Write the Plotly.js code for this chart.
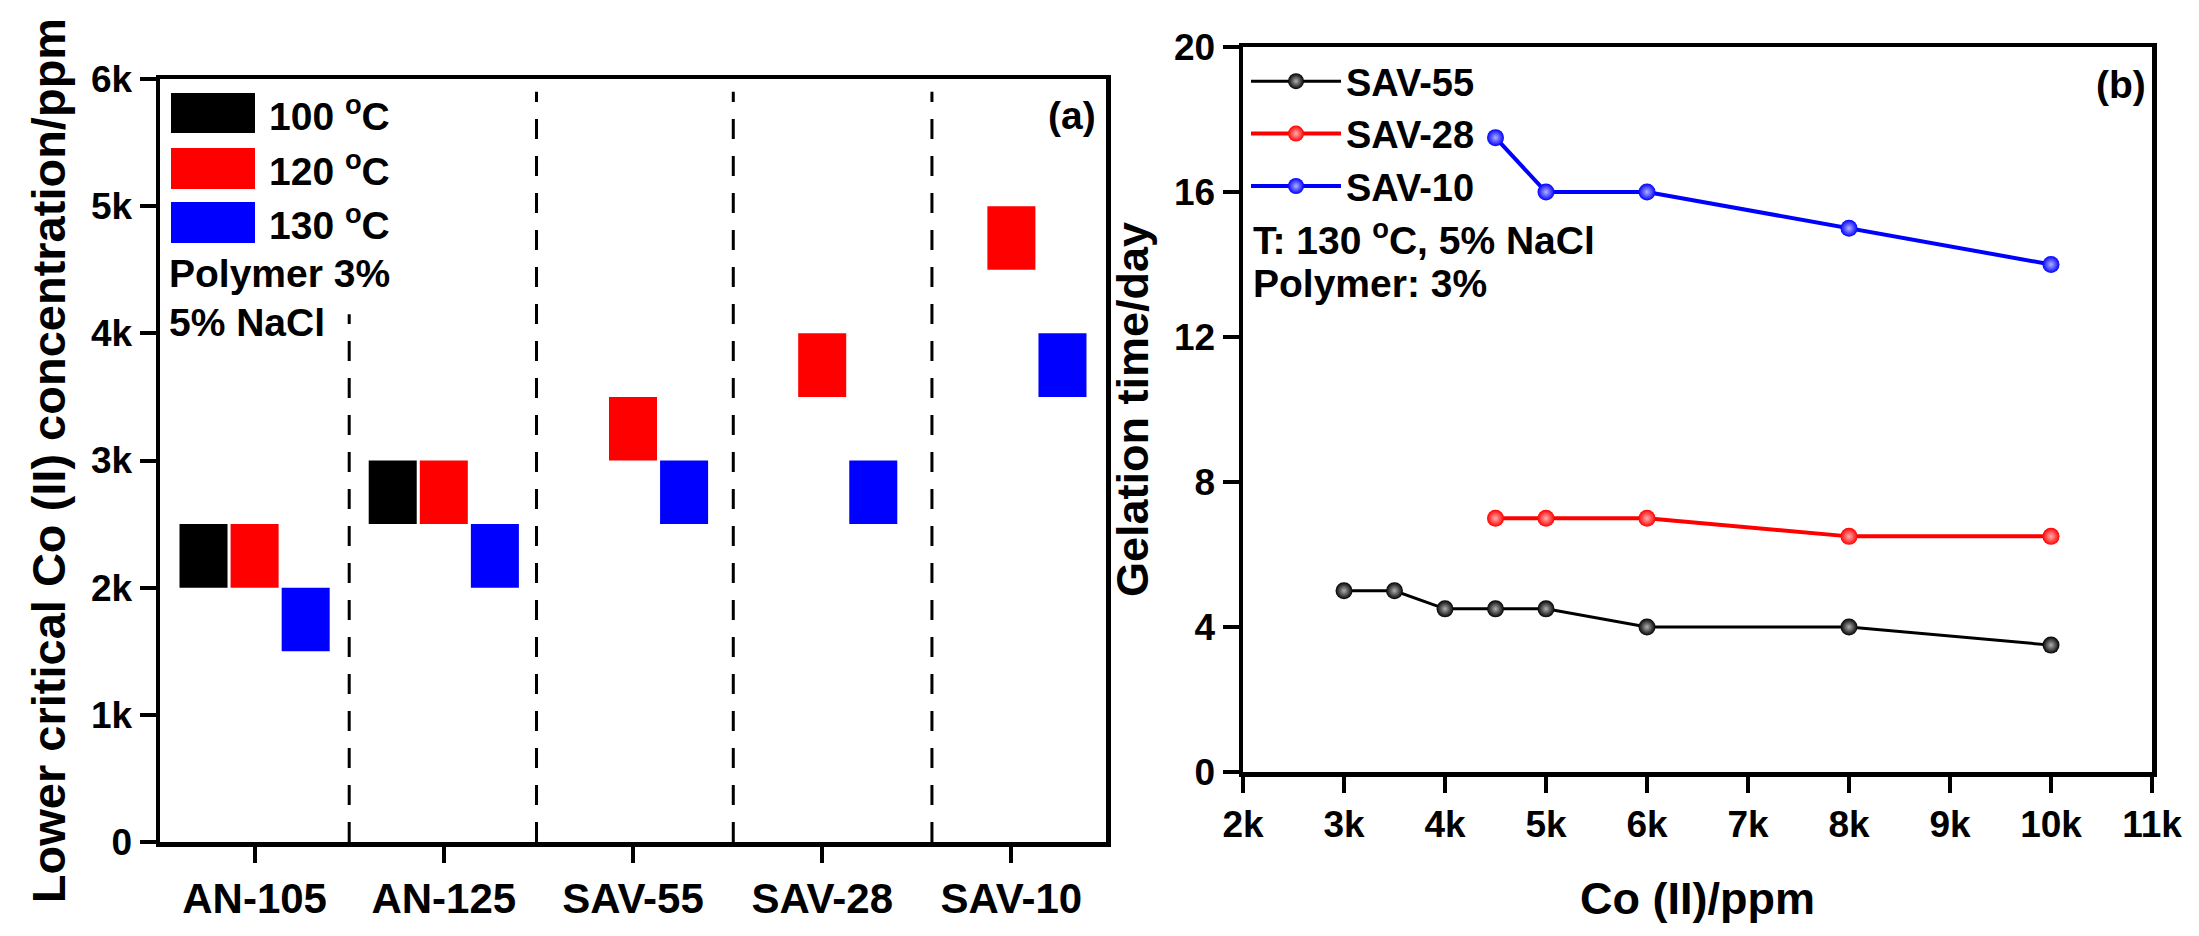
<!DOCTYPE html>
<html>
<head>
<meta charset="utf-8">
<script src="https://cdn.plot.ly/plotly-3.0.1.min.js"></script>
<style>
  html, body { margin: 0; padding: 0; background: #fff; }
  #chart { width: 2199px; height: 936px; }
</style>
</head>
<body>
<div id="chart"></div>
<script>
// ---- panel (a): lower critical Co(II) concentration ranges ----
var polymers = ['AN-105', 'AN-125', 'SAV-55', 'SAV-28', 'SAV-10'];
var low100  = [2000, 2500, null, null, null];
var high100 = [2500, 3000, null, null, null];
var low120  = [2000, 2500, 3000, 3500, 4500];
var high120 = [2500, 3000, 3500, 4000, 5000];
var low130  = [1500, 2000, 2500, 2500, 3500];
var high130 = [2000, 2500, 3000, 3000, 4000];
var tempLabels = ['100 <sup>o</sup>C', '120 <sup>o</sup>C', '130 <sup>o</sup>C'];

// dashed separators between polymers (x in category units, top in ppm)
var dividerX   = [0.5, 1.49, 2.53, 3.58];
var dividerTop = [4150, 5900, 5900, 5900];

// ---- panel (b): gelation time vs Co(II) ----
var sav55_x = [3000, 3500, 4000, 4500, 5000, 6000, 8000, 10000];
var sav55_y = [5, 5, 4.5, 4.5, 4.5, 4, 4, 3.5];
var sav28_x = [4500, 5000, 6000, 8000, 10000];
var sav28_y = [7, 7, 7, 6.5, 6.5];
var sav10_x = [4500, 5000, 6000, 8000, 10000];
var sav10_y = [17.5, 16, 16, 15, 14];

var W = 2199, H = 936;
function px(v) { return v / W; }
function py(v) { return 1 - v / H; }

var fontFam = 'Arial, "Liberation Sans", sans-serif';
var black = '#000000', red = '#ff0000', blue = '#0000ff';

function span(lo, hi) {
  return hi.map(function (h, i) { return h == null ? null : h - lo[i]; });
}

function rangeBar(name, lo, hi, color) {
  return {
    type: 'bar',
    name: name,
    x: polymers,
    y: span(lo, hi),
    base: lo,
    marker: { color: color, line: { width: 0 } },
    xaxis: 'x', yaxis: 'y',
    showlegend: false,
    hoverinfo: 'skip'
  };
}

function gelLine(name, xs, ys, color, shine, lw) {
  return {
    type: 'scatter',
    mode: 'lines+markers',
    name: name,
    x: xs,
    y: ys,
    line: { color: color, width: lw },
    marker: {
      color: color, size: 17,
      gradient: { type: 'radial', color: shine }
    },
    xaxis: 'x2', yaxis: 'y2'
  };
}

var data = [
  rangeBar('100 °C', low100, high100, black),
  rangeBar('120 °C', low120, high120, red),
  rangeBar('130 °C', low130, high130, blue),
  gelLine('SAV-55', sav55_x, sav55_y, black, '#b0b0b0', 3),
  gelLine('SAV-28', sav28_x, sav28_y, red, '#ffb0b0', 4),
  gelLine('SAV-10', sav10_x, sav10_y, blue, '#b0b0ff', 4)
];

var tickFont = { family: fontFam, size: 37, color: '#000', weight: 'bold' };
var titleFont = { family: fontFam, size: 47, color: '#000', weight: 'bold' };
var noteFont = { family: fontFam, size: 39, color: '#000', weight: 'bold' };

var axisBase = {
  showline: true, linecolor: '#000', linewidth: 4.5, mirror: true,
  ticks: 'outside', ticklen: 16, tickwidth: 4, tickcolor: '#000',
  showgrid: false, zeroline: false, fixedrange: true,
  tickfont: tickFont, automargin: false
};

var shapes = [];
// custom legend swatches for panel (a)
var swatchRows = [[93, 133], [148, 189], [202, 243]];
var swatchColors = [black, red, blue];
swatchRows.forEach(function (r, i) {
  shapes.push({
    type: 'rect', xref: 'paper', yref: 'paper',
    x0: px(171), x1: px(255), y0: py(r[1]), y1: py(r[0]),
    fillcolor: swatchColors[i], line: { width: 0 }
  });
});
dividerX.forEach(function (xv, i) {
  shapes.push({
    type: 'line', xref: 'x', yref: 'y',
    x0: xv, x1: xv, y0: 0, y1: dividerTop[i],
    line: { color: '#000', width: 3, dash: '20px,17px' }
  });
});

var annotations = [];
tempLabels.forEach(function (t, i) {
  annotations.push({
    xref: 'paper', yref: 'paper', x: px(267), y: py((swatchRows[i][0] + swatchRows[i][1]) / 2),
    xanchor: 'left', yanchor: 'middle', text: t, showarrow: false, font: noteFont
  });
});
annotations.push(
  { xref: 'paper', yref: 'paper', x: px(167), y: py(273), xanchor: 'left', yanchor: 'middle',
    text: 'Polymer 3%', showarrow: false, font: noteFont },
  { xref: 'paper', yref: 'paper', x: px(167), y: py(322), xanchor: 'left', yanchor: 'middle',
    text: '5% NaCl', showarrow: false, font: noteFont },
  { xref: 'paper', yref: 'paper', x: px(1098), y: py(115), xanchor: 'right', yanchor: 'middle',
    text: '(a)', showarrow: false, font: noteFont },
  { xref: 'paper', yref: 'paper', x: px(2148), y: py(84), xanchor: 'right', yanchor: 'middle',
    text: '(b)', showarrow: false, font: noteFont },
  { xref: 'paper', yref: 'paper', x: px(1251), y: py(237), xanchor: 'left', yanchor: 'middle',
    text: 'T: 130 <sup>o</sup>C, 5% NaCl', showarrow: false, font: noteFont },
  { xref: 'paper', yref: 'paper', x: px(1251), y: py(283), xanchor: 'left', yanchor: 'middle',
    text: 'Polymer: 3%', showarrow: false, font: noteFont }
);

var layout = {
  width: W, height: H,
  margin: { l: 0, r: 0, t: 0, b: 0 },
  paper_bgcolor: '#fff', plot_bgcolor: '#fff',
  barmode: 'group', bargap: 0.19, bargroupgap: 0.06,
  font: { family: fontFam, color: '#000' },
  xaxis: Object.assign({}, axisBase, {
    domain: [px(160), px(1106)],
    type: 'category', range: [-0.5, 4.5],
    tickfont: Object.assign({}, tickFont, { size: 42 })
  }),
  yaxis: Object.assign({}, axisBase, {
    domain: [py(842), py(79)],
    range: [0, 6000], dtick: 1000, tickformat: '~s',
    title: { text: 'Lower critical Co (II) concentration/ppm', font: titleFont, standoff: 12 }
  }),
  xaxis2: Object.assign({}, axisBase, {
    domain: [px(1243), px(2152)], anchor: 'y2',
    range: [2000, 11000], dtick: 1000, tickformat: '~s',
    title: { text: 'Co (II)/ppm', font: Object.assign({}, titleFont, { size: 45 }), standoff: 40 }
  }),
  yaxis2: Object.assign({}, axisBase, {
    domain: [py(772), py(47)], anchor: 'x2',
    range: [0, 20], dtick: 4,
    title: { text: 'Gelation time/day', font: Object.assign({}, titleFont, { size: 45 }), standoff: 12 }
  }),
  showlegend: true,
  legend: {
    x: px(1246), y: py(50), xanchor: 'left', yanchor: 'top',
    bgcolor: 'rgba(0,0,0,0)', borderwidth: 0,
    font: { family: fontFam, size: 38, color: '#000', weight: 'bold' },
    itemwidth: 90, tracegroupgap: 0
  },
  shapes: shapes,
  annotations: annotations
};

Plotly.newPlot('chart', data, layout, { displayModeBar: false, staticPlot: true });
</script>
</body>
</html>
